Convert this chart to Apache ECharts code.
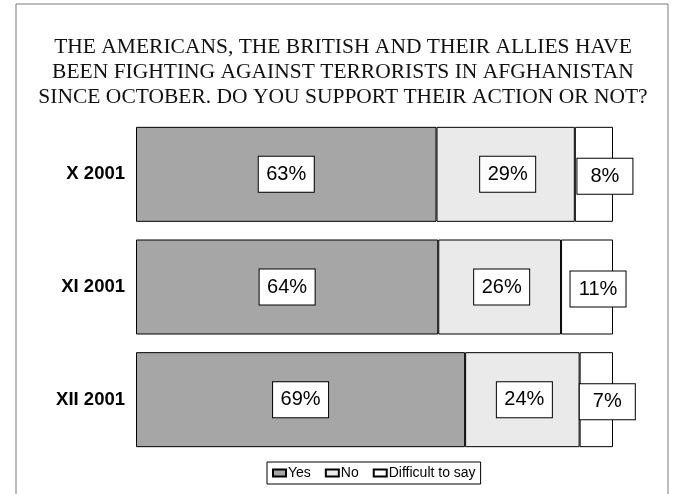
<!DOCTYPE html>
<html>
<head>
<meta charset="utf-8">
<title>Support for the action in Afghanistan</title>
<script src="https://cdn.jsdelivr.net/npm/echarts@6/dist/echarts.min.js"></script>
<style>
  html, body { margin: 0; padding: 0; background: #fff; }
  #chart { width: 674px; height: 494px; }
</style>
</head>
<body>
<div id="chart"></div>
<script>
// Survey waves (top to bottom)
const categories = ['X 2001', 'XI 2001', 'XII 2001'];

// Answer shares, in percent, as published
const yesValues = [63, 64, 69];
const noValues = [29, 26, 24];
const difficultValues = [8, 11, 7];

const seriesNames = ['Yes', 'No', 'Difficult to say'];

const titleText = 'THE AMERICANS, THE BRITISH AND THEIR ALLIES HAVE\n' +
  'BEEN FIGHTING AGAINST TERRORISTS IN AFGHANISTAN\n' +
  'SINCE OCTOBER. DO YOU SUPPORT THEIR ACTION OR NOT?';

// Each bar is a 100% stack: lengths are shares of that wave's total
const totals = categories.map((_, i) => yesValues[i] + noValues[i] + difficultValues[i]);
const share = (arr) => arr.map((v, i) => ({ value: v / totals[i] * 100, raw: v }));

const sansFont = '"Liberation Sans", Arial, sans-serif';

const labelStyle = (offset) => ({
  show: true,
  position: 'inside',
  offset: offset,
  formatter: (p) => p.data.raw + '%',
  color: '#000',
  fontFamily: sansFont,
  fontSize: 20,
  lineHeight: 20,
  backgroundColor: '#fff',
  borderColor: '#000',
  borderWidth: 1,
  padding: [7, 0, 8, 0],
  width: 55,
  align: 'center'
});

const barSeries = (name, values, color, offset) => ({
  name: name,
  type: 'bar',
  stack: 'answers',
  data: share(values),
  barWidth: 95,
  itemStyle: { color: color, borderColor: '#000', borderWidth: 1 },
  label: labelStyle(offset),
  emphasis: { disabled: true },
  silent: true
});

const chart = echarts.init(document.getElementById('chart'), null, { renderer: 'canvas' });

chart.setOption({
  animation: false,
  backgroundColor: '#fff',
  graphic: [{
    type: 'rect',
    shape: { x: 16, y: 4, width: 652, height: 500 },
    style: { fill: 'none', stroke: '#7a7a7a', lineWidth: 1 },
    silent: true
  }],
  title: {
    text: titleText,
    left: 338,
    top: 30,
    textAlign: 'center',
    textStyle: {
      fontFamily: '"Liberation Serif", "Times New Roman", serif',
      fontWeight: 'normal',
      fontSize: 21.5,
      lineHeight: 25,
      color: '#111'
    }
  },
  legend: {
    data: seriesNames,
    icon: 'rect',
    left: 267,
    top: 462,
    orient: 'horizontal',
    itemWidth: 13,
    itemHeight: 7,
    itemGap: 14,
    padding: [4, 5],
    borderColor: '#000',
    borderWidth: 1,
    backgroundColor: '#fff',
    selectedMode: false,
    textStyle: { fontFamily: sansFont, fontSize: 14, color: '#000', padding: [0, 0, 0, -3] }
  },
  grid: { left: 136, right: 61, top: 118, height: 338, containLabel: false },
  xAxis: {
    type: 'value',
    min: 0,
    max: 100,
    show: false
  },
  yAxis: {
    type: 'category',
    data: categories,
    inverse: true,
    axisLine: { show: false },
    axisTick: { show: false },
    splitLine: { show: false },
    axisLabel: {
      margin: 11,
      fontFamily: sansFont,
      fontWeight: 'bold',
      fontSize: 18.5,
      color: '#000'
    }
  },
  series: [
    barSeries(seriesNames[0], yesValues, '#a6a6a6', [0, 0]),
    barSeries(seriesNames[1], noValues, '#eaeaea', [2, 0]),
    barSeries(seriesNames[2], difficultValues, '#ffffff', [11, 2])
  ]
});
</script>
</body>
</html>
